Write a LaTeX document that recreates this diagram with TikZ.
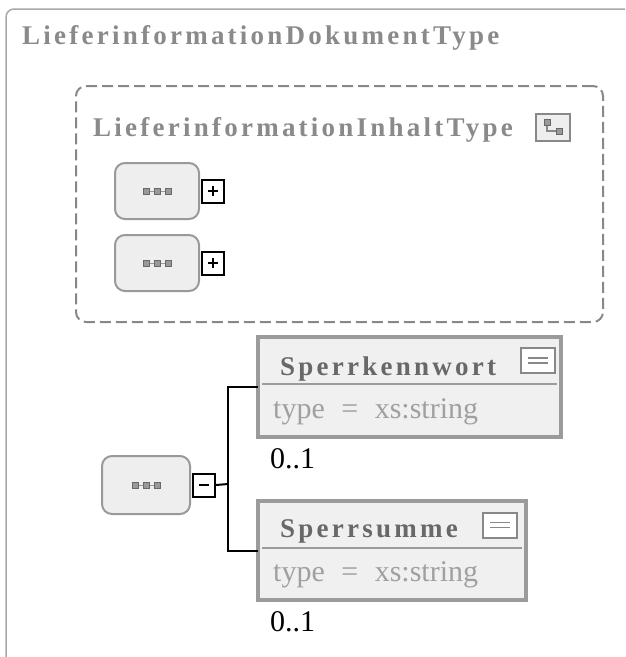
\documentclass[tikz,border=0pt]{standalone}
\usepackage{fontspec}
\setmainfont{Liberation Serif}
\newfontfamily\namefont[LetterSpace=12]{Liberation Serif}
\usetikzlibrary{positioning}
\definecolor{framegray}{HTML}{A8A8A8}
\definecolor{titlegray}{HTML}{8A8A8A}
\definecolor{namegray}{HTML}{686868}
\definecolor{typegray}{HTML}{A0A0A0}
\definecolor{boxgray}{HTML}{999999}
\definecolor{boxfill}{HTML}{EEEEEE}
\definecolor{elborder}{HTML}{9B9B9B}
\definecolor{elfill}{HTML}{F0F0F0}
\definecolor{icongray}{HTML}{888888}
\begin{document}
\begin{tikzpicture}[x=1pt,y=-1pt,
  frame/.style={draw=framegray,line width=1.5pt},
  dashbox/.style={draw=icongray,line width=2pt,dash pattern=on 11pt off 5pt,rounded corners=10pt,inner sep=0},
  title/.style={anchor=base west,inner sep=0,text=titlegray,font=\namefont\bfseries\fontsize{27}{30}\selectfont},
  seqbox/.style={draw=boxgray,fill=boxfill,line width=2pt,rounded corners=10pt,minimum width=84pt,minimum height=56pt,inner sep=0},
  seqdot/.style={rectangle,draw=namegray,fill=boxgray,line width=0.8pt,minimum size=6pt,inner sep=0},
  toggle/.style={draw,fill=white,line width=2pt,minimum width=22pt,minimum height=23pt,inner sep=0},
  elbox/.style={draw=elborder,fill=elfill,line width=4.5pt,inner sep=0},
  elicon/.style={draw=icongray,fill=white,line width=2pt,minimum width=34pt,minimum height=25pt,inner sep=0},
  ctypeicon/.style={draw=icongray,fill=boxfill,line width=2pt,minimum width=34pt,minimum height=27pt,inner sep=0},
  elname/.style={anchor=base west,inner sep=0,text=namegray,font=\namefont\bfseries\fontsize{27}{30}\selectfont},
  eltype/.style={anchor=base west,inner sep=0,text=typegray,font=\fontsize{30}{33}\selectfont},
  occurs/.style={anchor=base west,inner sep=0,font=\fontsize{30}{33}\selectfont},
  conn/.style={line width=2pt}]
\useasboundingbox (0,0) rectangle (625,657);
\draw[frame,rounded corners=8pt] (625,9) -- (6,9) -- (6,657);
\node[title] (doctitle) at (22,44) {LieferinformationDokumentType};
\node[dashbox,minimum width=527pt,minimum height=236pt] (inhalt) at (339.5,204) {};
\node[title] (inhalttitle) at (93,136) {LieferinformationInhaltType};
\node[ctypeicon] (cticon) at (553,127) {};
\draw[icongray,line width=1.5pt] ([xshift=-6pt,yshift=5pt]cticon.center) |- ([xshift=6pt,yshift=-4pt]cticon.center);
\node[seqdot] at ([xshift=-6pt,yshift=5pt]cticon.center) {};
\node[seqdot] at ([xshift=6pt,yshift=-4pt]cticon.center) {};
\node[seqbox] (seq1) at (157,191) {};
\node[seqbox] (seq2) at (157,263) {};
\node[seqbox,minimum width=88pt,minimum height=58pt] (seq3) at (146,485) {};
\foreach \s in {seq1,seq2,seq3} {
  \draw[boxgray,line width=1pt] ([xshift=-11pt]\s.center) -- ([xshift=11pt]\s.center);
  \foreach \dx in {-11,0,11}
    \node[seqdot] at ([xshift=\dx pt]\s.center) {};
}
\node[toggle,right=1pt of seq1] (tog1) {};
\node[toggle,right=1pt of seq2] (tog2) {};
\node[toggle,right=1pt of seq3] (tog3) {};
\foreach \t in {tog1,tog2}
  \draw[line width=2pt] ([xshift=-5pt]\t.center) -- ([xshift=5pt]\t.center)
    ([yshift=-5pt]\t.center) -- ([yshift=5pt]\t.center);
\draw[line width=2pt] ([xshift=-5pt]tog3.center) -- ([xshift=5pt]tog3.center);
\node[elbox,minimum width=303pt,minimum height=100pt] (el1) at (409.5,387) {};
\draw[elborder,line width=2pt] (262,384) -- (557,384);
\node[elname] (el1name) at (280,375) {Sperrkennwort};
\node[elicon] (el1icon) at (537.5,360.5) {};
\node[eltype] (el1type) at (273,418) {type\hspace{0.55em}=\hspace{0.55em}xs:string};
\node[occurs] (el1occ) at (270,468) {0..1};
\node[elbox,minimum width=268pt,minimum height=99pt] (el2) at (392,550.5) {};
\draw[elborder,line width=2pt] (262,548) -- (522,548);
\node[elname] (el2name) at (280,537) {Sperrsumme};
\node[elicon] (el2icon) at (500,525) {};
\node[eltype] (el2type) at (273,581) {type\hspace{0.55em}=\hspace{0.55em}xs:string};
\node[occurs] (el2occ) at (270,631) {0..1};
\foreach \e in {el1icon,el2icon}
  \draw[icongray,line width=1.5pt] ([xshift=-10pt,yshift=2.5pt]\e.center) -- ([xshift=10pt,yshift=2.5pt]\e.center)
    ([xshift=-10pt,yshift=-2.5pt]\e.center) -- ([xshift=10pt,yshift=-2.5pt]\e.center);
\coordinate (fork) at (228,484);
\coordinate (in1) at (258,387);
\coordinate (in2) at (258,551);
\draw[conn] (tog3.east) -- (fork);
\draw[conn] (in1) -| (fork) |- (in2);
\end{tikzpicture}
\end{document}
